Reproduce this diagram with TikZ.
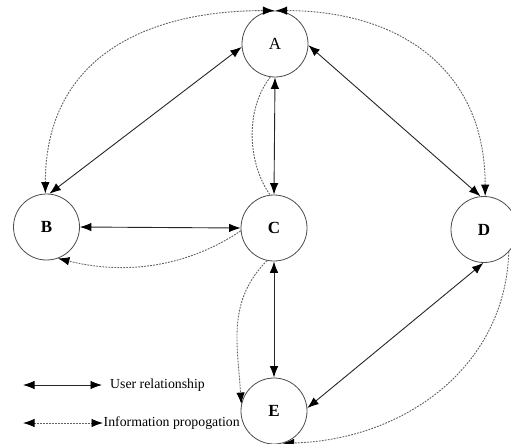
\documentclass[tikz,border=0pt]{standalone}
\usepackage{fontspec}
\setmainfont{Liberation Serif}
\usetikzlibrary{arrows.meta}
\begin{document}
\begin{tikzpicture}[x=1pt,y=-1pt,
  user/.style={circle, draw=black!70, line width=0.8pt, minimum size=66pt, inner sep=0pt, font=\fontsize{17}{20}\selectfont},
  rel/.style={draw=black!85, line width=0.9pt, {Latex[length=11.5pt,width=8.5pt,color=black]}-{Latex[length=11.5pt,width=8.5pt,color=black]}},
  info/.style={draw=black!62, line width=0.9pt, dash pattern=on 1.8pt off 1.2pt},
  infoboth/.style={info, {Latex[length=11.5pt,width=8.5pt,color=black]}-{Latex[length=11.5pt,width=8.5pt,color=black]}},
  infoend/.style={info, -{Latex[length=11.5pt,width=8.5pt,color=black]}},
  legend/.style={anchor=west, inner sep=0pt, font=\fontsize{13.8}{16}\selectfont}
]
\useasboundingbox (0,0) rectangle (511,444);
\fill[white] (0,0) rectangle (511,444);

\node[user] (A) at (275,44) {A};
\node[user] (B) at (46.5,227) {\textbf{B}};
\node[user] (C) at (274,228) {\textbf{C}};
\node[user] (D) at (484,229.5) {\textbf{D}};
\node[user] (E) at (274,411) {\textbf{E}};

% user relationships
\draw[rel] (A.185) -- (B.85);
\draw[rel] (A.south) -- (C.north);
\draw[rel] (A.358) -- (D.96);
\draw[rel] (B.east) -- (C.west);
\draw[rel] (C.south) -- (E.north);
\draw[rel] (D.269) -- (E.5);

% information propagation
\draw[infoboth] (B.92) .. controls +(0,-135) and +(-130,0) .. (A.91);
\draw[infoboth] (A.89) .. controls +(120,0) and +(0,-130) .. (D.88);
\draw[info] (A.262) .. controls +(-24,30) and +(-24,-35) .. (C.97);
\draw[infoend] (C.185) .. controls +(-60,40) and +(60,15) .. (B.290);
\draw[infoend] (C.258) .. controls +(-40,40) and +(-4,-60) .. (E.168);
\draw[infoend] (D.318) .. controls +(-4,119) and +(117,-3) .. (E.285);

% legend
\coordinate (u1) at (23,385);
\coordinate (u2) at (102,385);
\coordinate (i1) at (23,423);
\coordinate (i2) at (103,423);
\draw[rel] (u1) -- (u2);
\node[legend] (ul) at (110,385) {User relationship};
\draw[infoboth] (i1) -- (i2);
\node[legend] (il) at (103.5,423) {Information propogation};
\end{tikzpicture}
\end{document}
